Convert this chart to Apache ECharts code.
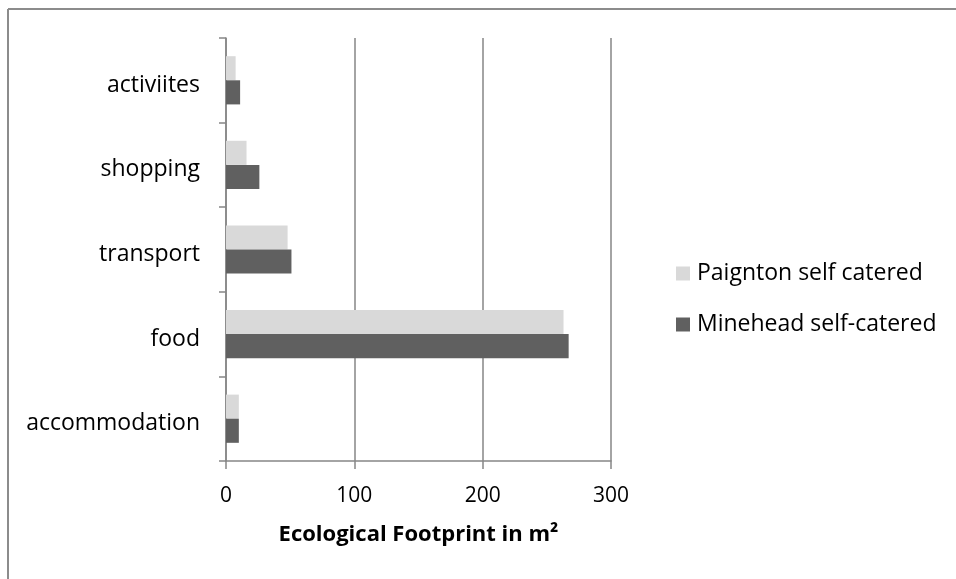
<!DOCTYPE html>
<html>
<head>
<meta charset="utf-8">
<script src="https://cdn.jsdelivr.net/npm/echarts@6/dist/echarts.min.js"></script>
<style>
  html, body { margin: 0; padding: 0; background: #fff; }
  #chart { width: 956px; height: 579px; }
</style>
</head>
<body>
<div id="chart"></div>
<script>
// Footprint components, listed bottom to top on the category axis
var categories = ['accommodation', 'food', 'transport', 'shopping', 'activiites'];
var paigntonSelfCatered = [10, 263, 48, 16, 7.5];
var mineheadSelfCatered = [10, 267, 51, 26, 11];
var xTicks = { min: 0, max: 300, interval: 100 };

var FONT = '"Open Sans", "Noto Sans", sans-serif';
var AXIS_GREY = '#868686';

var chart = echarts.init(document.getElementById('chart'), null, { renderer: 'canvas' });

chart.setOption({
  backgroundColor: '#ffffff',
  animation: false,
  textStyle: { fontFamily: FONT },
  graphic: [
    // frame: top and left edges of the chart area
    { type: 'line', shape: { x1: 8, y1: 9, x2: 956, y2: 9 }, style: { stroke: '#8c8c8c', lineWidth: 2 } },
    { type: 'line', shape: { x1: 8, y1: 9, x2: 8, y2: 579 }, style: { stroke: '#8c8c8c', lineWidth: 2 } }
  ],
  legend: {
    orient: 'vertical',
    left: 676,
    top: 262,
    padding: 0,
    itemWidth: 14,
    itemHeight: 14,
    itemGap: 28,
    icon: 'rect',
    data: ['Paignton self catered', 'Minehead self-catered'],
    textStyle: { fontFamily: FONT, fontSize: 23, lineHeight: 23, color: '#000', padding: [0, 0, 0, 2] }
  },
  grid: { left: 226, top: 38, right: 345, bottom: 118, containLabel: false },
  xAxis: {
    type: 'value',
    min: xTicks.min,
    max: xTicks.max,
    interval: xTicks.interval,
    name: 'Ecological Footprint in m²',
    nameLocation: 'middle',
    nameGap: 63,
    nameTextStyle: { fontFamily: FONT, fontSize: 22, fontWeight: 'bold', color: '#000' },
    axisLine: { show: true, lineStyle: { color: AXIS_GREY, width: 1.5 } },
    axisTick: { show: true, length: 8, lineStyle: { color: AXIS_GREY, width: 1.5 } },
    axisLabel: { fontFamily: FONT, fontSize: 21, color: '#000', margin: 25 },
    splitLine: { show: true, lineStyle: { color: AXIS_GREY, width: 1.5 } }
  },
  yAxis: {
    type: 'category',
    data: categories,
    axisLine: { show: true, lineStyle: { color: AXIS_GREY, width: 1.5 } },
    axisTick: { show: true, length: 7, lineStyle: { color: AXIS_GREY, width: 1.5 } },
    axisLabel: {
      margin: 26,
      formatter: function (v) { return '{c|' + v + '}'; },
      rich: {
        c: { fontFamily: FONT, fontSize: 23, color: '#000', padding: [10, 0, 0, 0] }
      }
    },
    splitLine: { show: false }
  },
  series: [
    {
      name: 'Paignton self catered',
      type: 'bar',
      data: paigntonSelfCatered,
      itemStyle: { color: '#d9d9d9' },
      barGap: '0%',
      barCategoryGap: '43%'
    },
    {
      name: 'Minehead self-catered',
      type: 'bar',
      data: mineheadSelfCatered,
      itemStyle: { color: '#606060' },
      barGap: '0%',
      barCategoryGap: '43%'
    }
  ]
});
</script>
</body>
</html>
